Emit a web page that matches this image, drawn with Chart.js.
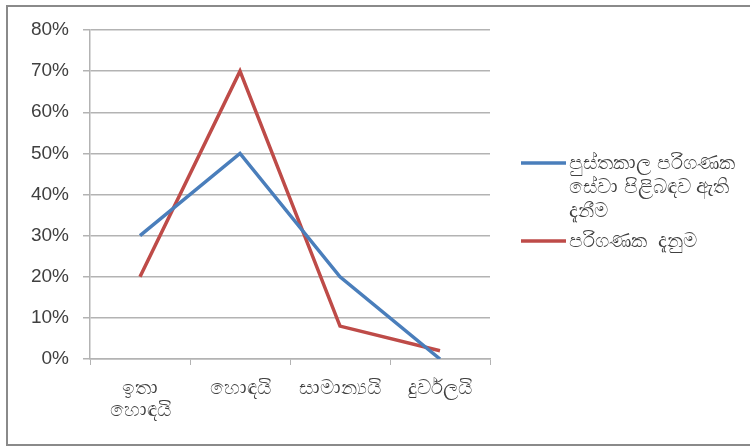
<!DOCTYPE html>
<html>
<head>
<meta charset="utf-8">
<script src="https://cdn.jsdelivr.net/npm/chart.js@4/dist/chart.umd.min.js"></script>
<style>
  html, body { margin: 0; padding: 0; background: #fff; }
  #wrap { width: 750px; height: 448px; position: relative; }
</style>
</head>
<body>
<div id="wrap"><canvas id="c" width="750" height="448"></canvas></div>
<script>
// Rating categories (multi-line label for the first one)
const categories = [["ඉතා", "හොඳයි"], "හොඳයි", "සාමාන්‍යයි", "දුර්වලයි"];

// Series: percentage of respondents per rating
const seriesNames = [
  ["පුස්තකාල පරිගණක", "සේවා පිළිබඳව ඇති", "දැනීම"],
  ["පරිගණක  දැනුම"]
];
const libraryServiceKnowledge = [30, 50, 20, 0];
const computerKnowledge = [20, 70, 8, 2];

// Y axis ticks (percent)
const yTicks = [0, 10, 20, 30, 40, 50, 60, 70, 80];

const FONT = "'Liberation Sans', Arial, sans-serif";
const GRID = '#b3b3b3';
const TEXT = '#404040';

// Frame around the figure (left, top and bottom edges)
const framePlugin = {
  id: 'frame',
  beforeDraw(chart) {
    const ctx = chart.ctx;
    ctx.save();
    ctx.fillStyle = '#fff';
    ctx.fillRect(0, 0, chart.width, chart.height);
    ctx.strokeStyle = '#8a8a8a';
    ctx.lineWidth = 2;
    ctx.beginPath();
    ctx.moveTo(750, 6);
    ctx.lineTo(7, 6);
    ctx.lineTo(7, 445);
    ctx.lineTo(750, 445);
    ctx.stroke();
    ctx.restore();
  }
};

// Legend drawn at the right with wrapped names
const sideLegend = {
  id: 'sideLegend',
  afterDraw(chart) {
    const ctx = chart.ctx;
    ctx.save();
    ctx.font = '20px ' + FONT;
    ctx.textBaseline = 'middle';
    const x0 = 521, x1 = 566, tx = 569;
    const starts = [163, 241];
    chart.data.datasets.forEach((ds, i) => {
      const y = starts[i];
      ctx.strokeStyle = ds.borderColor;
      ctx.lineWidth = 3.5;
      ctx.beginPath();
      ctx.moveTo(x0, y);
      ctx.lineTo(x1, y);
      ctx.stroke();
      ctx.fillStyle = TEXT;
      seriesNames[i].forEach((line, j) => {
        ctx.fillText(line, tx, y + j * 24);
      });
    });
    ctx.restore();
  }
};

new Chart(document.getElementById('c'), {
  type: 'line',
  data: {
    labels: categories,
    datasets: [
      {
        label: seriesNames[0].join(' '),
        data: libraryServiceKnowledge,
        borderColor: '#4a7ebb',
        borderWidth: 3.5,
        pointRadius: 0,
        tension: 0,
        fill: false
      },
      {
        label: seriesNames[1].join(' '),
        data: computerKnowledge,
        borderColor: '#be4b48',
        borderWidth: 3.5,
        pointRadius: 0,
        tension: 0,
        fill: false
      }
    ]
  },
  options: {
    responsive: false,
    animation: false,
    devicePixelRatio: 1,
    layout: { padding: { left: 0, right: 260, top: 30, bottom: 0 } },
    plugins: {
      legend: { display: false },
      tooltip: { enabled: false }
    },
    scales: {
      x: {
        offset: true,
        grid: {
          offset: true,
          drawOnChartArea: false,
          drawTicks: true,
          tickLength: 6,
          color: GRID
        },
        border: { display: true, color: GRID, width: 1.5 },
        ticks: {
          color: TEXT,
          font: { family: FONT, size: 20, lineHeight: 1.1 },
          padding: 12,
          maxRotation: 0,
          autoSkip: false
        },
        afterFit(scale) { scale.height = 89; }
      },
      y: {
        min: 0,
        max: 80,
        afterBuildTicks(scale) {
          scale.ticks = yTicks.map(v => ({ value: v }));
        },
        grid: {
          color: GRID,
          lineWidth: 1.5,
          drawTicks: true,
          tickLength: 7
        },
        border: { display: true, color: GRID, width: 1.5 },
        ticks: {
          color: TEXT,
          font: { family: FONT, size: 19 },
          padding: 14,
          callback: v => v + '%'
        },
        afterFit(scale) { scale.width = 90; }
      }
    }
  },
  plugins: [framePlugin, sideLegend]
});
</script>
</body>
</html>
